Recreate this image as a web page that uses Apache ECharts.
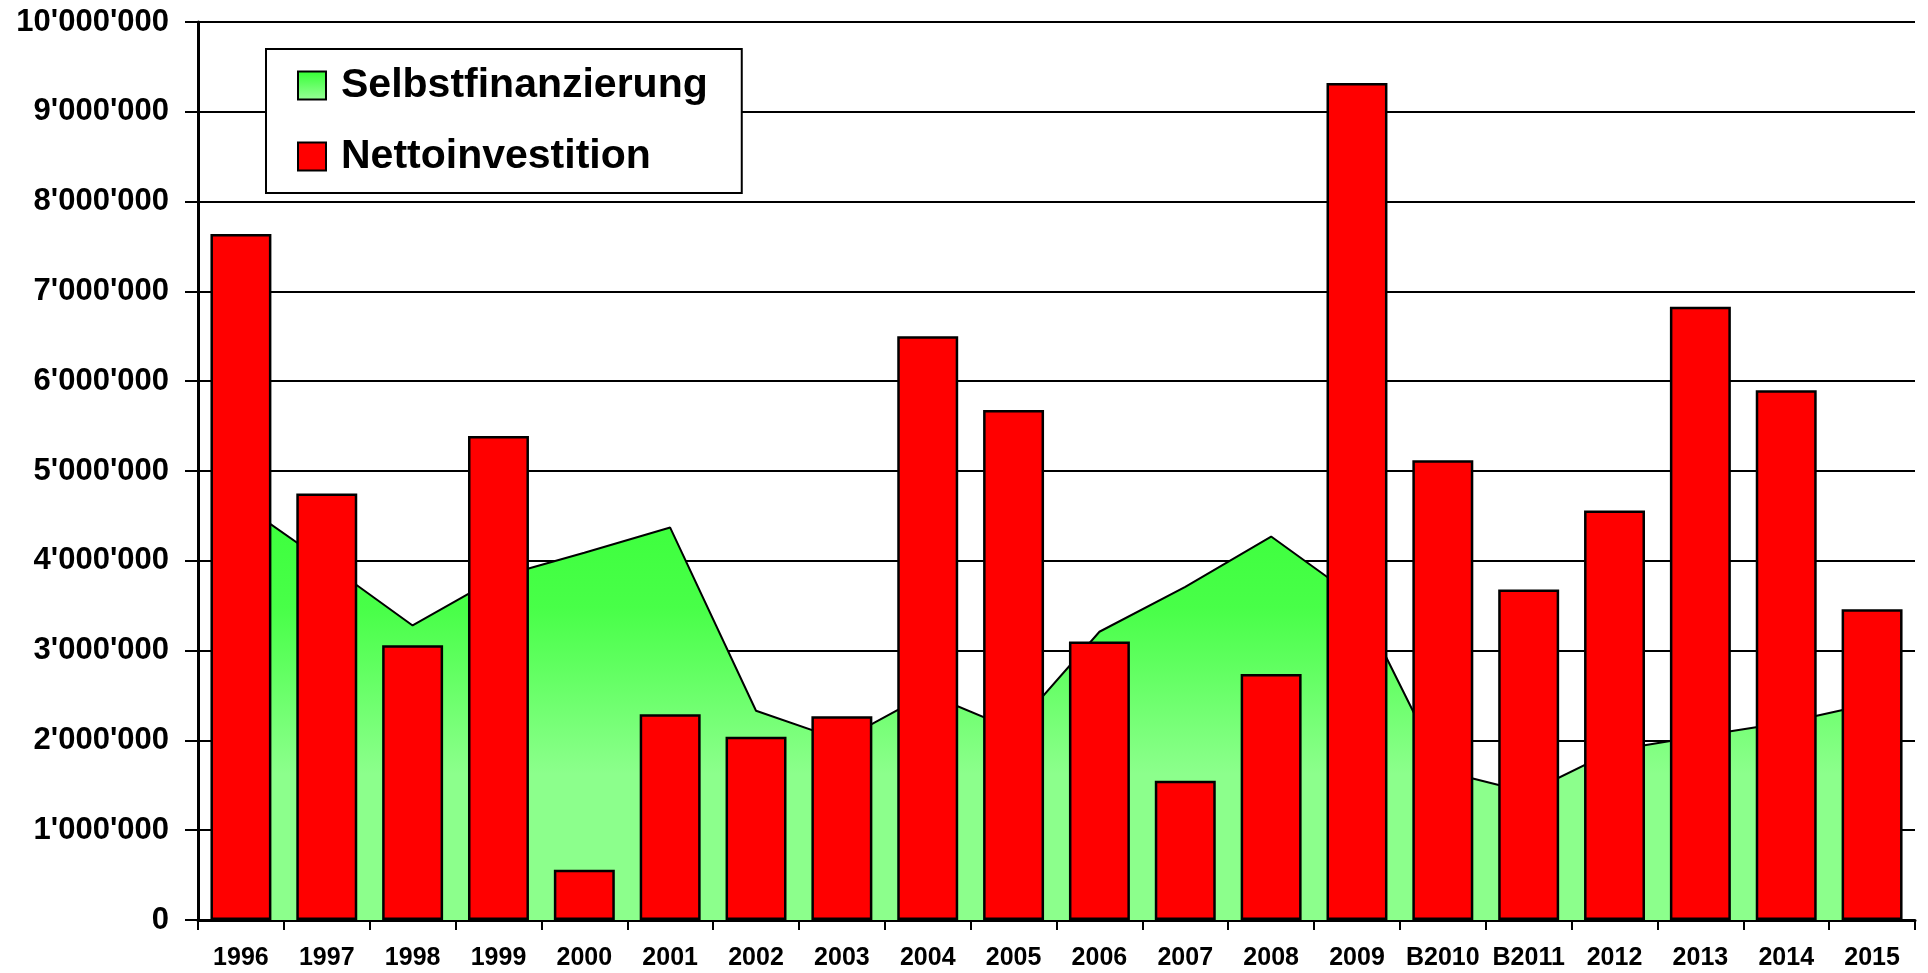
<!DOCTYPE html>
<html>
<head>
<meta charset="utf-8">
<script src="https://cdn.jsdelivr.net/npm/echarts@6/dist/echarts.min.js"></script>
<style>
html,body{margin:0;padding:0;background:#fff;}
#chart{width:1928px;height:973px;}
</style>
</head>
<body>
<div id="chart"></div>
<script>
var categories = ['1996','1997','1998','1999','2000','2001','2002','2003','2004','2005','2006','2007','2008','2009','B2010','B2011','2012','2013','2014','2015'];
var selbstfinanzierung = [4640000,3970000,3280000,3820000,4090000,4370000,2330000,2000000,2520000,2120000,3210000,3710000,4270000,3580000,1660000,1420000,1890000,2050000,2200000,2410000];
var nettoinvestition = [7640000,4750000,3060000,5390000,560000,2290000,2040000,2270000,6500000,5680000,3100000,1550000,2740000,9320000,5120000,3680000,4560000,6830000,5900000,3460000];
var seriesNames = ['Selbstfinanzierung','Nettoinvestition'];
var yMin = 0, yMax = 10000000, yStep = 1000000;

var FONT = "'Liberation Sans', Arial, sans-serif";
function fmt(v){ return String(v).replace(/\B(?=(\d{3})+(?!\d))/g, "'"); }

var areaGrad = new echarts.graphic.LinearGradient(0,0,0,1,[
  {offset:0, color:'#3CFF3C'},
  {offset:0.25, color:'#48FF48'},
  {offset:0.65, color:'#8CFF8C'},
  {offset:1, color:'#8CFF8C'}
]);
var legendGrad = new echarts.graphic.LinearGradient(0,0,0,1,[
  {offset:0, color:'#33FF33'},
  {offset:1, color:'#99FF99'}
]);

var chart = echarts.init(document.getElementById('chart'), null, {renderer:'canvas'});
chart.setOption({
  animation:false,
  backgroundColor:'#ffffff',
  grid:{left:198, right:13, top:22, bottom:53, containLabel:false},
  legend:{
    orient:'vertical', left:266, top:49,
    padding:[16,34,16,31],
    itemGap:30, itemWidth:28, itemHeight:28,
    backgroundColor:'#ffffff', borderColor:'#000000', borderWidth:2,
    textStyle:{fontFamily:FONT, fontWeight:'bold', fontSize:41, lineHeight:40, color:'#000', padding:[0,0,0,10]},
    data:[
      {name:seriesNames[0], icon:'rect', itemStyle:{color:legendGrad, borderColor:'#000', borderWidth:2}},
      {name:seriesNames[1], icon:'rect', itemStyle:{color:'#FF0000', borderColor:'#000', borderWidth:2}}
    ]
  },
  xAxis:{
    type:'category', data:categories, boundaryGap:true,
    axisLine:{show:true, lineStyle:{color:'#000', width:3}},
    axisTick:{show:true, length:10, lineStyle:{color:'#000', width:2}},
    axisLabel:{fontFamily:FONT, fontWeight:'bold', fontSize:25, color:'#000', margin:26, interval:0},
    splitLine:{show:false}
  },
  yAxis:{
    type:'value', min:yMin, max:yMax, interval:yStep,
    axisLine:{show:true, lineStyle:{color:'#000', width:3}},
    axisTick:{show:true, length:13, lineStyle:{color:'#000', width:2}},
    axisLabel:{fontFamily:FONT, fontWeight:'bold', fontSize:31, color:'#000', margin:29, formatter:fmt},
    splitLine:{show:true, lineStyle:{color:'#000', width:2}}
  },
  series:[
    {
      name:seriesNames[0], type:'line', data:selbstfinanzierung,
      symbol:'none', smooth:false,
      lineStyle:{color:'#000', width:2},
      itemStyle:{color:'#48FF48'},
      areaStyle:{color:areaGrad, opacity:1},
      z:2
    },
    {
      name:seriesNames[1], type:'bar', data:nettoinvestition,
      barCategoryGap:'29%',
      itemStyle:{color:'#FF0000', borderColor:'#000', borderWidth:2.5},
      z:3
    }
  ]
});
</script>
</body>
</html>
